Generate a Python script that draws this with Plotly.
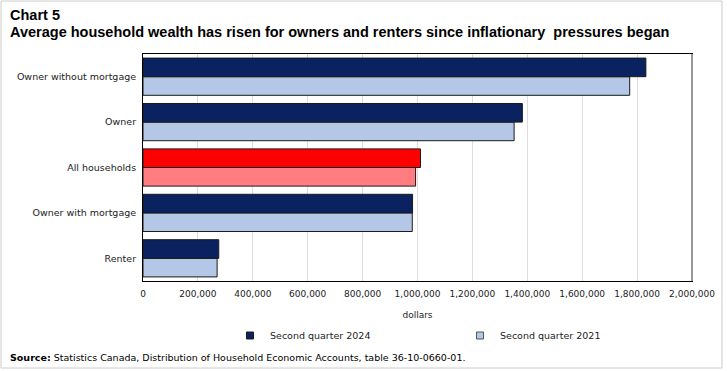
import plotly.graph_objects as go

categories = ["Renter", "Owner with mortgage", "All households", "Owner", "Owner without mortgage"]
q2_2024 = [276000, 982000, 1011000, 1382000, 1832000]
q2_2021 = [270000, 981000, 993000, 1352000, 1773000]
series_names = ["Second quarter 2024", "Second quarter 2021"]
tick_vals = [0, 200000, 400000, 600000, 800000, 1000000, 1200000, 1400000, 1600000, 1800000, 2000000]
tick_text = ["0", "200,000", "400,000", "600,000", "800,000", "1,000,000", "1,200,000",
             "1,400,000", "1,600,000", "1,800,000", "2,000,000"]

DARK = "#0b2260"
LIGHT = "#b4c7e7"
RED = "#ff0000"
PINK = "#ff7c80"

c2024 = [RED if c == "All households" else DARK for c in categories]
c2021 = [PINK if c == "All households" else LIGHT for c in categories]

fig = go.Figure()
fig.add_trace(go.Bar(y=categories, x=q2_2021, orientation="h", name=series_names[1],
                     marker=dict(color=c2021, line=dict(color="#1a1a1a", width=1)),
                     showlegend=False))
fig.add_trace(go.Bar(y=categories, x=q2_2024, orientation="h", name=series_names[0],
                     marker=dict(color=c2024, line=dict(color="#1a1a1a", width=1)),
                     showlegend=False))
# legend entries
fig.add_trace(go.Scatter(x=[None], y=[None], mode="markers", name=series_names[0],
                         marker=dict(symbol="square", size=7, color=DARK,
                                     line=dict(color="#1a1a1a", width=1))))
fig.add_trace(go.Scatter(x=[None], y=[None], mode="markers", name=series_names[1],
                         marker=dict(symbol="square", size=7, color=LIGHT,
                                     line=dict(color="#555", width=1))))

L, R, T, B = 143, 692, 54, 281
W, H = 727, 371
pw, ph = R - L, B - T

def px_x(x):
    return (x - L) / pw

def px_y(y):
    return (B - y) / ph

font_fam = "DejaVu Sans, Verdana, sans-serif"

fig.update_layout(
    width=W, height=H,
    margin=dict(l=L, r=W - R, t=T, b=H - B, pad=0),
    paper_bgcolor="white", plot_bgcolor="white",
    barmode="group", bargap=0.18, bargroupgap=0,
    font=dict(family=font_fam, size=9, color="#222"),
    xaxis=dict(range=[0, 2000000], tickvals=tick_vals, ticktext=tick_text,
               showgrid=True, gridcolor="#dddddd", gridwidth=1,
               showline=True, linecolor="black", linewidth=1, mirror=True,
               ticks="", ticklabelstandoff=4, zeroline=False,
               title=dict(text="dollars", font=dict(size=9, family=font_fam), standoff=13),
               tickfont=dict(size=9, family=font_fam), fixedrange=True),
    yaxis=dict(showline=True, linecolor="black", linewidth=1, mirror=True,
               ticks="", ticklabelstandoff=4, showgrid=False,
               tickfont=dict(size=9.5, family=font_fam), fixedrange=True),
    legend=dict(orientation="h", x=px_x(230), y=px_y(321), xanchor="left", yanchor="top",
                entrywidth=185, entrywidthmode="pixels",
                font=dict(size=9.5, family=font_fam), itemwidth=30,
                bgcolor="rgba(0,0,0,0)"),
    annotations=[
        dict(text="<b>Chart 5</b>", xref="paper", yref="paper", x=px_x(8), y=px_y(5),
             xanchor="left", yanchor="top", showarrow=False,
             font=dict(family="Liberation Sans, Arial, sans-serif", size=14.5, color="black")),
        dict(text="<b>Average household wealth has risen for owners and renters since inflationary  pressures began</b>",
             xref="paper", yref="paper", x=px_x(8), y=px_y(22),
             xanchor="left", yanchor="top", showarrow=False,
             font=dict(family="Liberation Sans, Arial, sans-serif", size=14.5, color="black")),
        dict(text="<b>Source:</b> Statistics Canada, Distribution of Household Economic Accounts, table 36-10-0660-01.",
             xref="paper", yref="paper", x=px_x(8), y=px_y(350),
             xanchor="left", yanchor="top", showarrow=False,
             font=dict(family=font_fam, size=9.5, color="black")),
    ],
    shapes=[
        dict(type="rect", xref="paper", yref="paper", x0=px_x(1), x1=px_x(722), y0=px_y(368), y1=px_y(1),
             line=dict(color="#cccccc", width=1), layer="below"),
        dict(type="line", xref="paper", yref="paper", x0=1, x1=1, y0=0, y1=1,
             line=dict(color="#999999", width=2)),
    ],
)

fig.write_html("out.html", post_script="document.body.style.margin='0';",
               config={"displayModeBar": False})
